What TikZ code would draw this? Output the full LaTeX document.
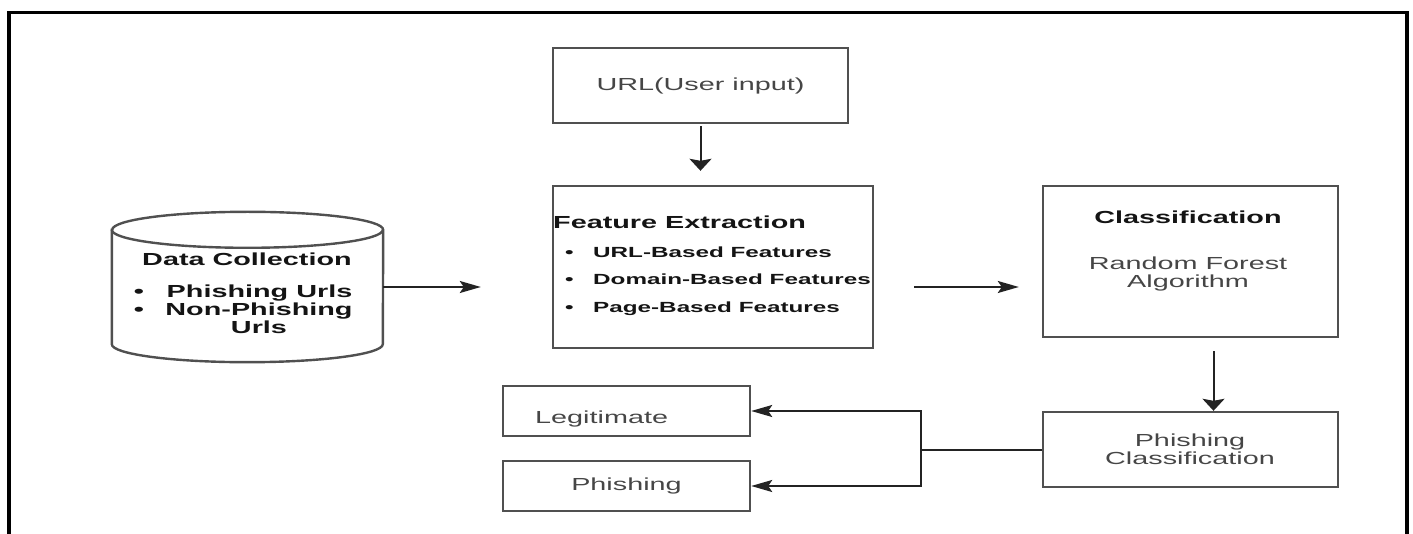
\documentclass[tikz,border=0pt]{standalone}
\usepackage{fontspec}
\setmainfont{Liberation Sans}
\newfontfamily\diafont[FakeStretch=1.65]{Liberation Sans}
\usepackage{xcolor}
\usepackage{tikz}
\usetikzlibrary{positioning,arrows.meta}
\definecolor{boxgray}{RGB}{80,80,80}
\definecolor{textgray}{RGB}{70,70,70}
\definecolor{textdark}{RGB}{20,20,20}
\definecolor{linedark}{RGB}{35,35,35}

\begin{document}
\begin{tikzpicture}[x=1pt, y=1pt, font=\diafont\fontsize{17.45}{18.5}\selectfont,
  box/.style={draw=boxgray, line width=2.4pt, inner sep=0pt},
  lbl/.style={inner sep=0pt, anchor=base, text=textgray},
  ttl/.style={lbl, text=textdark, font=\diafont\bfseries\fontsize{17.45}{18.5}\selectfont},
  itm/.style={lbl, anchor=base west, text=textdark, font=\diafont\bfseries\fontsize{14.7}{16}\selectfont},
  conn/.style={draw=linedark, line width=2pt},
  harrow/.style={conn, -{Stealth[length=21pt,width=12pt,inset=4pt]}},
  varrow/.style={conn, -{Stealth[length=12pt,width=22pt,inset=2pt]}}]
\useasboundingbox (0,0) rectangle (1413,-534);
\draw[line width=3.2pt] (9,-534) -- (9,-12.5) -- (1407,-12.5) -- (1407,-534);

% data store
\node[inner sep=0pt, minimum width=271pt, minimum height=150pt] (data) at (247.5,-287) {};
\draw[box] ([yshift=-18pt]data.north west) -- ([yshift=18pt]data.south west)
  arc[start angle=180, end angle=360, x radius=135.5pt, y radius=18pt]
  -- ([yshift=-18pt]data.north east)
  arc[start angle=0, end angle=180, x radius=135.5pt, y radius=18pt] -- cycle;
\draw[box] ([yshift=-18pt]data.north west) arc[start angle=180, end angle=360, x radius=135.5pt, y radius=18pt];

% boxes
\node[box, minimum width=295pt, minimum height=75pt, text=textgray] (url) at (700.5,-85.5) {URL(User input)};
\node[box, minimum width=320pt, minimum height=162pt] (feat) at (713,-267) {};
\node[box, minimum width=295pt, minimum height=151pt] (cls) at (1190.5,-261.5) {};
\node[box, minimum width=295pt, minimum height=75pt] (pc) at (1190.5,-449.5) {};
\node[box, minimum width=247pt, minimum height=50pt] (legit) at (626.5,-411) {};
\node[box, minimum width=247pt, minimum height=50pt, text=textgray] (phish) at (626.5,-486) {Phishing};

% texts
\node[ttl] (dctitle) at (247,-266) {Data Collection};
\node[ttl] (dcbulla) at (139,-298) {\textbullet};
\node[ttl] (dcbullb) at (139,-316) {\textbullet};
\node[ttl] (dcone) at (259.5,-298) {Phishing Urls};
\node[ttl] (dctwo) at (259,-316) {Non-Phishing};
\node[ttl] (dctwob) at (259,-334) {Urls};

\node[ttl, anchor=base west] (fetitle) at (553,-229) {Feature Extraction};
\node[itm] (fea) at (565,-258) {\makebox[28pt][l]{\textbullet}URL-Based Features};
\node[itm] (feb) at (565,-285) {\makebox[28pt][l]{\textbullet}Domain-Based Features};
\node[itm] (fec) at (565,-313) {\makebox[28pt][l]{\textbullet}Page-Based Features};

\node[ttl] (clstitle) at (1188,-224) {Classification};
\node[lbl] (clsa) at (1188,-270) {Random Forest};
\node[lbl] (clsb) at (1188,-288) {Algorithm};
\node[lbl] (pca) at (1190,-446) {Phishing};
\node[lbl] (pcb) at (1190,-464) {Classification};
\node[lbl, anchor=base west] (legittext) at (535,-423) {Legitimate};

% connectors
\draw[harrow, shorten >=71pt] (data.east) -- (data.east -| feat.west);
\draw[varrow, shorten <=2pt, shorten >=14pt] (url.south) -- (url.south |- feat.north);
\draw[harrow, shorten <=40pt, shorten >=23pt] (feat.east |- data.east) -- (cls.west |- data.east);
\draw[varrow, shorten <=13pt] ([xshift=23pt]cls.south) -- ([xshift=23pt]pc.north);
\coordinate (split) at (921,-449.5);
\draw[conn] (pc.west) -- (split);
\draw[harrow] (split) |- (legit.east);
\draw[harrow] (split) |- (phish.east);
\end{tikzpicture}
\end{document}
